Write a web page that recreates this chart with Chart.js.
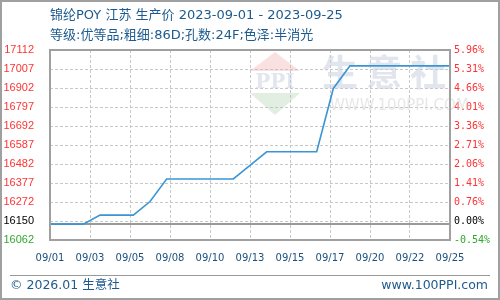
<!DOCTYPE html>
<html><head><meta charset="utf-8">
<script src="https://cdn.jsdelivr.net/npm/chart.js@4/dist/chart.umd.min.js"></script>
<style>
html,body{margin:0;padding:0;background:#fff;}
#wrap{position:relative;width:500px;height:300px;overflow:hidden;}
canvas{position:absolute;left:0;top:0;}
.t{position:absolute;color:#1d5a8e;font-family:"DejaVu Sans","Noto Sans CJK SC",sans-serif;white-space:nowrap;line-height:20px;}
#frame{position:absolute;left:0;top:0;width:500px;height:300px;box-sizing:border-box;border:2px solid #a0a0a0;pointer-events:none;}
#sep{position:absolute;left:10px;top:275px;width:480px;height:1px;background:#999;}
</style></head>
<body><div id="wrap">
<canvas id="c" width="500" height="300"></canvas>
<div class="t" style="left:50px;top:5px;font-size:13px;">锦纶POY 江苏 生产价 2023-09-01 - 2023-09-25</div>
<div class="t" style="left:50px;top:25px;font-size:13px;">等级:优等品;粗细:86D;孔数:24F;色泽:半消光</div>
<div id="sep"></div>
<div class="t" style="left:10px;top:275px;font-size:12.5px;">© 2026.01 生意社</div>
<div class="t" style="right:12px;top:275px;font-size:12.5px;">www.100PPI.com</div>
<div id="frame"></div>
</div>
<script>
const dates = ['09/01','09/02','09/03','09/04','09/05','09/06','09/07','09/08','09/09','09/10','09/11','09/12','09/13','09/14','09/15','09/16','09/17','09/18','09/19','09/20','09/21','09/22','09/23','09/24','09/25'];
const prices = [16150,16150,16150,16200,16200,16200,16275,16400,16400,16400,16400,16400,16475,16550,16550,16550,16550,16900,17025,17025,17025,17025,17025,17025,17025];
const xTickLabels = ['09/01','09/03','09/05','09/08','09/10','09/13','09/15','09/17','09/20','09/22','09/25'];
const leftLabels = ['16062','16150','16272','16377','16482','16587','16692','16797','16902','17007','17112'];
const rightLabels = ['-0.54%','0.00%','0.76%','1.41%','2.06%','2.71%','3.36%','4.01%','4.66%','5.31%','5.96%'];
const basePrice = 16150;
const yMin = 16062.5, yMax = 17112.5;

const yStep = (yMax - yMin) / (leftLabels.length - 1);
const xStep = (dates.length - 1) / (xTickLabels.length - 1);
function labelColor(i){ return i === 0 ? '#2fa82f' : (i === 1 ? '#000000' : '#ff3333'); }

const deco = {
  id:'deco',
  beforeDatasetsDraw(chart){
    const ctx = chart.ctx, a = chart.chartArea;
    ctx.save();
    // watermark logo
    ctx.fillStyle = 'rgba(240,170,170,0.35)';
    ctx.beginPath(); ctx.moveTo(250,71); ctx.lineTo(300,71); ctx.lineTo(275,52); ctx.closePath(); ctx.fill();
    ctx.fillStyle = 'rgba(160,200,160,0.3)';
    ctx.beginPath(); ctx.moveTo(250,93); ctx.lineTo(300,93); ctx.lineTo(275,115); ctx.closePath(); ctx.fill();
    ctx.fillStyle = 'rgba(190,200,220,0.45)';
    ctx.font = 'bold 20px "DejaVu Serif", serif';
    ctx.textAlign = 'center'; ctx.textBaseline = 'middle';
    ctx.fillText('PPI', 275, 83);
    ctx.fillStyle = 'rgba(200,208,222,0.55)';
    ctx.font = 'bold 36px "Noto Sans CJK SC", sans-serif';
    ctx.textAlign = 'left';
    ctx.fillText('生 意 社', 322, 72);
    ctx.fillStyle = 'rgba(215,215,215,0.6)';
    ctx.font = '15px "DejaVu Sans", sans-serif';
    ctx.fillText('WWW.100PPI.COM', 330, 106);
    // base price line
    const y0 = chart.scales.y.getPixelForValue(basePrice);
    ctx.strokeStyle = '#999999';
    ctx.lineWidth = 2;
    ctx.beginPath(); ctx.moveTo(a.left, Math.round(y0)); ctx.lineTo(a.right, Math.round(y0)); ctx.stroke();
    ctx.restore();
  },
  afterDatasetsDraw(chart){
    const ctx = chart.ctx, a = chart.chartArea;
    ctx.save();
    ctx.strokeStyle = '#a0a0a0';
    ctx.lineWidth = 2;
    ctx.strokeRect(a.left, a.top, a.right - a.left, a.bottom - a.top);
    ctx.restore();
  }
};

new Chart(document.getElementById('c'), {
  type:'line',
  data:{ datasets:[{
    data: prices.map((p,i)=>({x:i, y:p})),
    borderColor:'#3a95d5', borderWidth:1.6, pointRadius:0, tension:0, fill:false
  }]},
  options:{
    responsive:false, animation:false,
    layout:{padding:{top:50,left:0,right:0,bottom:0}},
    plugins:{legend:{display:false}, tooltip:{enabled:false}},
    scales:{
      x:{type:'linear', min:0, max:dates.length-1,
        afterBuildTicks(s){ s.ticks = xTickLabels.map((_,k)=>({value:k*xStep})); },
        afterFit(s){ s.height = 60; },
        ticks:{autoSkip:false, maxRotation:0, padding:12, color:'#1d4f7c',
          font:{family:'"DejaVu Sans"', size:10},
          callback:(v,i)=>xTickLabels[i]},
        grid:{color:'#c8c8c8', drawTicks:false, lineWidth:1},
        border:{display:false, dash:[3,2]}
      },
      y:{type:'linear', position:'left', min:yMin, max:yMax,
        afterBuildTicks(s){ s.ticks = leftLabels.map((_,k)=>({value:yMin + k*yStep})); },
        afterFit(s){ s.width = 50; },
        ticks:{padding:16, color:(c)=>labelColor(c.index),
          font:{family:'"Liberation Sans"', size:11},
          callback:(v,i)=>leftLabels[i]},
        grid:{color:'#c8c8c8', drawTicks:false, lineWidth:1},
        border:{display:false, dash:[3,2]}
      },
      y1:{type:'linear', position:'right', min:yMin, max:yMax,
        afterBuildTicks(s){ s.ticks = rightLabels.map((_,k)=>({value:yMin + k*yStep})); },
        afterFit(s){ s.width = 50; },
        ticks:{padding:4, color:(c)=>labelColor(c.index),
          font:{family:'"DejaVu Sans Mono"', size:10},
          callback:(v,i)=>rightLabels[i]},
        grid:{display:false, drawTicks:false},
        border:{display:false}
      }
    }
  },
  plugins:[deco]
});
</script>
</body></html>
